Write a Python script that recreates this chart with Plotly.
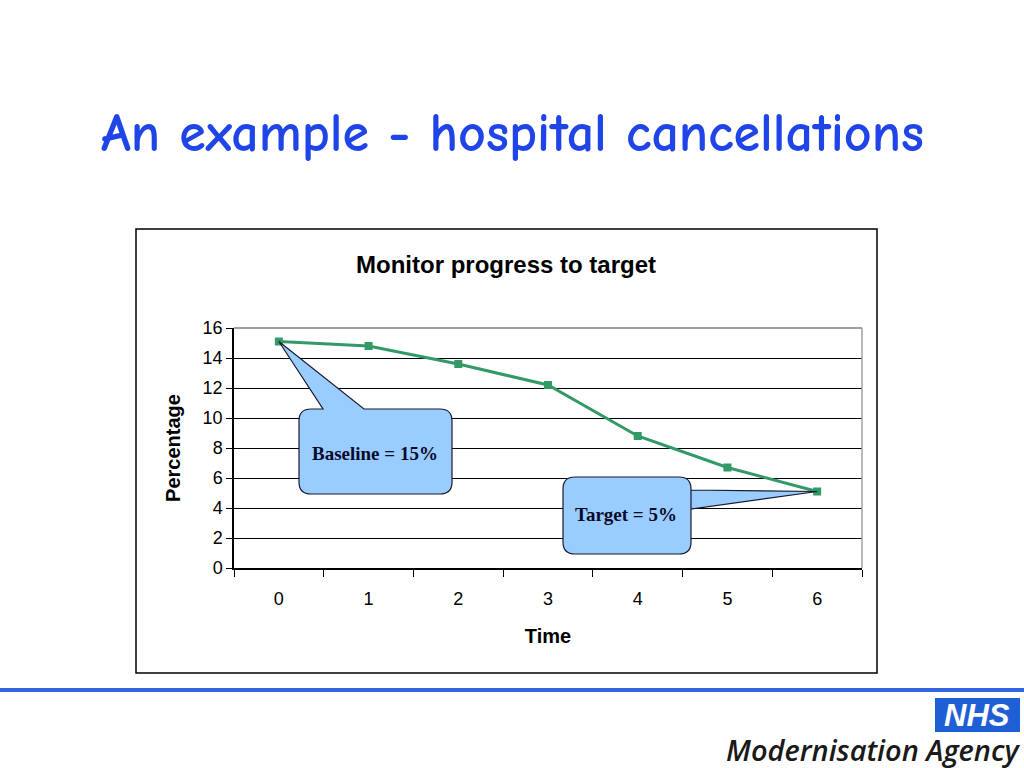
import plotly.graph_objects as go

time_labels = ["0", "1", "2", "3", "4", "5", "6"]
percentage = [15.1, 14.8, 13.6, 12.2, 8.8, 6.7, 5.1]
y_ticks = [0, 2, 4, 6, 8, 10, 12, 14, 16]

slide_title = "An example - hospital cancellations"
chart_title = "Monitor progress to target"
callout_base = "Baseline = 15%"
callout_target = "Target = 5%"

# layout geometry (pixels)
W, H = 1024, 768
PL, PR, PT, PB = 234, 862, 328, 568
pw, ph = PR - PL, PB - PT

def px(x):
    return (x - PL) / pw

def py(y):
    return (PB - y) / ph

ux = pw / 7.0   # pixels per category
uy = ph / 16.0  # pixels per unit

def dx(xpix):
    return (xpix - PL) / ux - 0.5

def dy(ypix):
    return (PB - ypix) / uy


def callout_path(x0, y0, x1, y1, tip, side, a, b, r=12):
    """Rounded rectangle (data coords) with pointer. side: 'top' or 'right'."""
    rx, ry = r / ux, r / uy
    tx, ty = tip
    p = []
    if side == "top":
        p.append(f"M{tx},{ty}")
        p.append(f"L{b},{y1}")
        p.append(f"L{x1-rx},{y1}")
        p.append(f"Q{x1},{y1} {x1},{y1-ry}")
        p.append(f"L{x1},{y0+ry}")
        p.append(f"Q{x1},{y0} {x1-rx},{y0}")
        p.append(f"L{x0+rx},{y0}")
        p.append(f"Q{x0},{y0} {x0},{y0+ry}")
        p.append(f"L{x0},{y1-ry}")
        p.append(f"Q{x0},{y1} {x0+rx},{y1}")
        p.append(f"L{a},{y1}")
        p.append("Z")
    else:
        p.append(f"M{tx},{ty}")
        p.append(f"L{x1},{b}")
        p.append(f"L{x1},{y0+ry}")
        p.append(f"Q{x1},{y0} {x1-rx},{y0}")
        p.append(f"L{x0+rx},{y0}")
        p.append(f"Q{x0},{y0} {x0},{y0+ry}")
        p.append(f"L{x0},{y1-ry}")
        p.append(f"Q{x0},{y1} {x0+rx},{y1}")
        p.append(f"L{x1-rx},{y1}")
        p.append(f"Q{x1},{y1} {x1},{y1-ry}")
        p.append(f"L{x1},{a}")
        p.append("Z")
    return " ".join(p)


fig = go.Figure()
fig.add_trace(go.Scatter(
    x=time_labels, y=percentage, mode="lines+markers",
    line=dict(color="#339966", width=3),
    marker=dict(symbol="square", size=8, color="#339966"),
    hoverinfo="x+y", showlegend=False,
))

shapes = []
shapes.append(dict(type="rect", xref="paper", yref="paper",
                   x0=px(136), x1=px(877), y0=py(673), y1=py(229),
                   line=dict(color="#000000", width=1.5), fillcolor="rgba(0,0,0,0)", layer="below"))
shapes.append(dict(type="line", xref="paper", yref="paper", x0=0, x1=1, y0=1, y1=1,
                   line=dict(color="#404040", width=1.2), layer="below"))
shapes.append(dict(type="line", xref="paper", yref="paper", x0=1, x1=1, y0=0, y1=1,
                   line=dict(color="#A0A0A0", width=1.5)))
fill = "#99CCFF"
edge = "#1A1A2E"
shapes.append(dict(type="path", xref="x", yref="y",
                   path=callout_path(dx(299), dy(494), dx(452), dy(409),
                                     (0, percentage[0]), "top", dx(323), dx(364)),
                   fillcolor=fill, line=dict(color=edge, width=1.2)))
shapes.append(dict(type="path", xref="x", yref="y",
                   path=callout_path(dx(563), dy(554), dx(691), dy(477),
                                     (6, percentage[6]), "right", dy(509), dy(490)),
                   fillcolor=fill, line=dict(color=edge, width=1.2)))
shapes.append(dict(type="line", xref="paper", yref="paper",
                   x0=px(0), x1=px(1024), y0=py(690), y1=py(690),
                   line=dict(color="#3366E6", width=4)))
shapes.append(dict(type="rect", xref="paper", yref="paper",
                   x0=px(935), x1=px(1020), y0=py(732), y1=py(698),
                   line=dict(width=0), fillcolor="#1F5FD6"))

annotations = [
    dict(text=f"<b>{slide_title}</b>", xref="paper", yref="paper", x=px(512), y=py(133),
         showarrow=False, xanchor="center", yanchor="middle",
         font=dict(family="Comic Sans MS, Comic Neue, Open Sans, sans-serif", size=54, color="#1F45E8")),
    dict(text=f"<b>{chart_title}</b>", xref="paper", yref="paper", x=px(506), y=py(264),
         showarrow=False, xanchor="center", yanchor="middle",
         font=dict(family="Liberation Sans, Arial", size=24, color="#000000")),
    dict(text=f"<b>{callout_base}</b>", xref="x", yref="y", x=dx(375), y=dy(453),
         showarrow=False, xanchor="center", yanchor="middle",
         font=dict(family="Liberation Serif, Times New Roman", size=19, color="#0A0A2A")),
    dict(text=f"<b>{callout_target}</b>", xref="x", yref="y", x=dx(626), y=dy(514),
         showarrow=False, xanchor="center", yanchor="middle",
         font=dict(family="Liberation Serif, Times New Roman", size=19, color="#0A0A2A")),
    dict(text="<b><i>NHS</i></b>", xref="paper", yref="paper", x=px(977), y=py(715),
         showarrow=False, xanchor="center", yanchor="middle", borderpad=0,
         font=dict(family="Liberation Sans, Arial", size=31, color="#FFFFFF")),
    dict(text="<i>Modernisation Agency</i>", xref="paper", yref="paper", x=px(1021), y=py(749),
         showarrow=False, xanchor="right", yanchor="middle", borderpad=0,
         font=dict(family="Open Sans SemiBold, Open Sans, sans-serif", size=29, color="#1A1A1A")),
]

fig.update_layout(
    width=W, height=H,
    margin=dict(l=PL, r=W - PR, t=PT, b=H - PB, pad=0),
    paper_bgcolor="#FFFFFF", plot_bgcolor="#FFFFFF",
    shapes=shapes, annotations=annotations,
    font=dict(family="Liberation Sans, Arial", color="#000000"),
)
fig.update_xaxes(
    type="category", tickson="boundaries", ticks="outside", ticklen=7,
    tickcolor="#000000", showline=True, linecolor="#000000", linewidth=1.5,
    showgrid=False, tickfont=dict(size=18), ticklabelstandoff=14,
    title=dict(text="<b>Time</b>", font=dict(size=20), standoff=21),
    range=[-0.5, 6.5], fixedrange=True,
)
fig.update_yaxes(
    range=[0, 16], tickvals=y_ticks, ticks="outside", ticklen=6,
    tickcolor="#000000", showline=True, linecolor="#000000", linewidth=1.5,
    showgrid=True, gridcolor="#000000", gridwidth=1, zeroline=False,
    tickfont=dict(size=18), title=dict(text="<b>Percentage</b>", font=dict(size=20), standoff=17),
    fixedrange=True,
)

fig.write_html("out.html", config={"displayModeBar": False},
               post_script="document.body.style.margin='0';document.body.style.overflow='hidden';")
